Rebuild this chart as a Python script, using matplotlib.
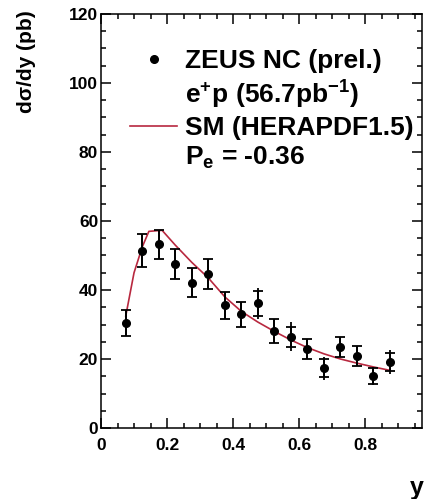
import matplotlib
matplotlib.use('Agg')
import matplotlib.pyplot as plt
from matplotlib.lines import Line2D
from matplotlib.ticker import MultipleLocator, FuncFormatter

plt.rcParams['font.family'] = ['Liberation Sans', 'DejaVu Sans']
plt.rcParams['font.weight'] = 'bold'
plt.rcParams['mathtext.fontset'] = 'custom'
plt.rcParams['mathtext.rm'] = 'Liberation Sans:bold'
plt.rcParams['mathtext.bf'] = 'Liberation Sans:bold'
plt.rcParams['mathtext.it'] = 'Liberation Sans:bold'

# ZEUS NC e+p data (bin centres in y)
y_bins = [0.075, 0.125, 0.175, 0.225, 0.275, 0.325, 0.375, 0.425, 0.475,
          0.525, 0.575, 0.625, 0.675, 0.725, 0.775, 0.825, 0.875]
dsig = [30.4, 51.4, 53.2, 47.5, 42.1, 44.6, 35.6, 33.0, 36.2,
        28.1, 26.4, 22.9, 17.3, 23.5, 20.9, 15.1, 19.1]
err_stat = [3.8, 4.8, 4.3, 4.3, 4.2, 4.3, 3.9, 3.6, 3.6,
            3.4, 3.0, 3.0, 2.6, 2.9, 3.0, 2.4, 2.6]
err_tot = [3.8, 4.8, 4.3, 4.3, 4.2, 4.3, 3.9, 3.6, 4.5,
           3.4, 4.2, 3.0, 3.4, 2.9, 3.0, 2.6, 3.5]

# SM prediction (HERAPDF1.5)
sm_y = [0.075, 0.1, 0.125, 0.145, 0.185, 0.225, 0.275, 0.325, 0.375, 0.425,
        0.475, 0.525, 0.575, 0.625, 0.675, 0.725, 0.775, 0.825, 0.875]
sm_val = [32.5, 45.0, 52.5, 57.0, 57.3, 53.0, 48.0, 43.5, 38.0, 33.8,
          30.7, 28.0, 25.5, 23.3, 21.5, 20.0, 18.8, 17.7, 16.7]

line_col = '#b8283f'

fig = plt.figure(figsize=(4.24, 4.99), dpi=100)
ax = fig.add_axes([101/424, 1 - 428/499, 321/424, 414/499])

ax.plot(sm_y, sm_val, color=line_col, lw=1.2, zorder=2)
ax.errorbar(y_bins, dsig, yerr=err_tot, fmt='none', ecolor='black',
            elinewidth=1.3, capsize=0, zorder=3)
ax.errorbar(y_bins, dsig, yerr=err_stat, fmt='o', color='black', ms=5.5,
            elinewidth=1.3, capsize=3.5, capthick=1.3, zorder=4)

ax.set_xlim(0, 0.972)
ax.set_ylim(0, 120)
ax.xaxis.set_major_locator(MultipleLocator(0.2))
ax.xaxis.set_minor_locator(MultipleLocator(0.05))
ax.yaxis.set_major_locator(MultipleLocator(20))
ax.yaxis.set_minor_locator(MultipleLocator(5))
ax.xaxis.set_major_formatter(FuncFormatter(lambda v, _: '0' if abs(v) < 1e-9 else f'{v:.1f}'))
ax.yaxis.set_major_formatter(FuncFormatter(lambda v, _: f'{v:.0f}'))

ax.tick_params(which='both', direction='in', top=True, right=True, width=1.1)
ax.tick_params(which='major', length=7)
ax.tick_params(which='minor', length=3.6)
ax.tick_params(axis='x', pad=7, labelsize=12.5)
ax.tick_params(axis='y', pad=2, labelsize=12.5)
for lab in ax.get_xticklabels() + ax.get_yticklabels():
    lab.set_fontweight('bold')
for sp in ax.spines.values():
    sp.set_linewidth(1.1)

handles = [
    Line2D([], [], ls='none', marker='o', color='black', ms=5.5),
    Line2D([], [], ls='none'),
    Line2D([], [], color=line_col, lw=1.2),
    Line2D([], [], ls='none'),
]
labels = ['ZEUS NC (prel.)',
          r'$\mathbf{e^{+}p\ (56.7pb^{-1})}$',
          'SM (HERAPDF1.5)',
          r'$\mathbf{P_{e}}$ = -0.36']
ax.legend(handles, labels, loc='upper left', bbox_to_anchor=(0.09, 0.915),
          frameon=False, borderpad=0, borderaxespad=0, handlelength=1.8,
          handletextpad=0.28, labelspacing=0.2,
          prop={'size': 19, 'weight': 'bold'})

fig.text(27/424, 1 - 10/499, 'dσ/dy (pb)', rotation=90, ha='center', va='top',
         fontsize=15, fontweight='bold')
fig.text(410/424, 1 - 488/499, 'y', ha='left', va='center',
         fontsize=18, fontweight='bold')

fig.savefig('out.png', dpi=100)
